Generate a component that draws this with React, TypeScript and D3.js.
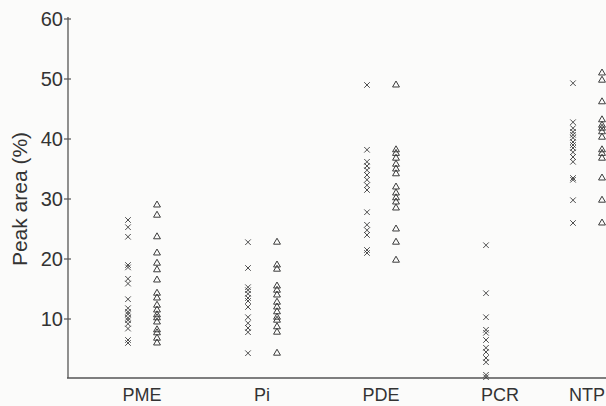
import React from 'react';
import * as d3 from 'd3';

// categories along the x axis
const categories = ['PME', 'Pi', 'PDE', 'PCR', 'NTP'];
const yTicks = [10, 20, 30, 40, 50, 60];

// peak area (%): crosses (left column) and triangles (right column)
const pmeCross = [26.5, 25.3, 23.7, 19.0, 18.6, 16.7, 15.9, 13.3, 11.8, 11.2, 10.8, 10.2, 9.8, 9.2, 8.4, 6.5, 6.0];
const pmeTri = [29.0, 27.3, 23.7, 21.0, 19.3, 18.2, 16.5, 14.3, 13.5, 12.3, 11.5, 10.7, 10.2, 9.5, 8.2, 7.7, 6.8, 6.0];
const piCross = [22.8, 18.5, 15.3, 14.8, 14.2, 13.5, 13.0, 12.0, 10.3, 9.3, 8.5, 7.8, 4.3];
const piTri = [22.8, 19.0, 18.3, 15.5, 14.8, 14.0, 12.8, 12.0, 11.2, 10.3, 9.8, 8.7, 7.8, 4.3];
const pdeCross = [49.0, 38.2, 36.2, 35.5, 34.8, 34.0, 33.2, 32.3, 31.5, 27.8, 25.7, 24.8, 24.0, 21.5, 21.0];
const pdeTri = [49.0, 38.2, 37.6, 36.8, 35.8, 35.0, 34.2, 32.0, 31.0, 30.2, 29.5, 28.5, 25.0, 22.8, 19.8];
const pcrCross = [22.3, 14.3, 10.3, 8.2, 7.7, 6.5, 5.2, 4.5, 3.5, 2.8, 0.7, 0.3];
const pcrTri: number[] = [];
const ntpCross = [49.3, 42.8, 41.8, 41.2, 40.7, 40.2, 39.5, 39.0, 38.5, 37.8, 37.0, 36.2, 33.5, 33.2, 29.8, 26.0];
const ntpTri = [51.0, 49.8, 46.2, 43.2, 42.3, 41.8, 41.2, 40.3, 38.2, 37.6, 36.8, 33.5, 29.8, 26.0];

const crossSets = [pmeCross, piCross, pdeCross, pcrCross, ntpCross];
const triSets = [pmeTri, piTri, pdeTri, pcrTri, ntpTri];

const W = 606;
const H = 406;
const axisX = 68;
const axisY = 378;

const App = () => {
  const y = d3.scaleLinear().domain([0, 60]).range([379, 19]);
  // the figure is cropped on the right, so the last group sits closer
  const x = d3.scaleOrdinal<string, number>().domain(categories).range([142, 262, 381, 500, 587]);

  const crossPath = d3.symbol(d3.symbolX, 22)() as string;
  const triPath = d3.symbol(d3.symbolTriangle2, 34)() as string;

  const ink = '#3c3c3c';
  const font = 'Liberation Sans, Arial, sans-serif';

  return (
    <svg width={W} height={H} style={{ position: 'absolute', left: 0, top: 0, background: '#fbfbfa' }}>
      <rect width={W} height={H} fill="#fbfbfa" />

      {/* axes */}
      <line x1={axisX} x2={axisX} y1={17} y2={axisY} stroke="#555" strokeWidth={1.3} />
      <line x1={axisX - 1} x2={W} y1={axisY} y2={axisY} stroke="#555" strokeWidth={1.3} />
      {yTicks.map(t => (
        <g key={t}>
          <line x1={axisX - 4} x2={axisX + 3} y1={y(t)} y2={y(t)} stroke="#555" strokeWidth={1.2} />
          <text x={axisX - 5} y={y(t)} dy="0.35em" textAnchor="end" fontSize={20} fontFamily={font} fill="#333">
            {t}
          </text>
        </g>
      ))}
      <text
        transform={`translate(27,${y(30)}) rotate(-90)`}
        textAnchor="middle"
        fontSize={21}
        fontFamily={font}
        fill="#333"
      >
        Peak area (%)
      </text>

      {categories.map((c, i) => (
        <g key={c}>
          <text x={x(c)} y={401} textAnchor="middle" fontSize={18} fontFamily={font} fill="#333">
            {c}
          </text>
          {crossSets[i].map((v, j) => (
            <path
              key={'x' + j}
              d={crossPath}
              transform={`translate(${x(c) - 14},${y(v)})`}
              fill="none"
              stroke={ink}
              strokeWidth={0.9}
            />
          ))}
          {triSets[i].map((v, j) => (
            <path
              key={'t' + j}
              d={triPath}
              transform={`translate(${x(c) + 15},${y(v)})`}
              fill="none"
              stroke={ink}
              strokeWidth={1}
            />
          ))}
        </g>
      ))}
    </svg>
  );
};

export default App;
